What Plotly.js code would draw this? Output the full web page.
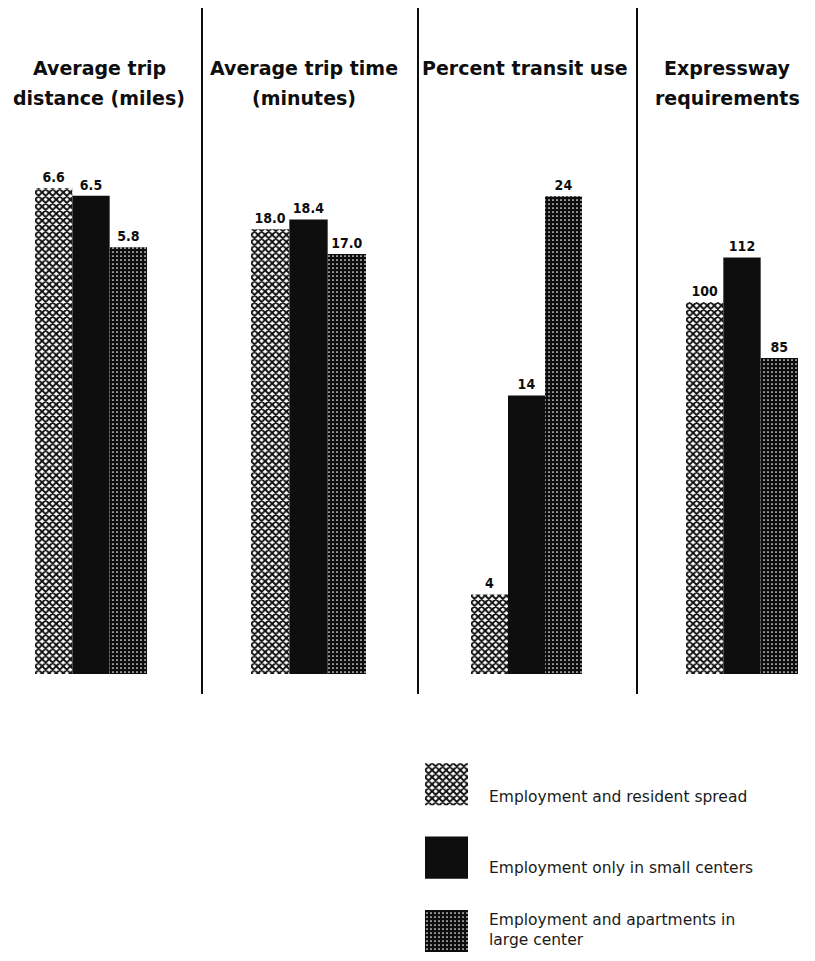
<!DOCTYPE html>
<html>
<head>
<meta charset="utf-8">
<script src="https://cdn.plot.ly/plotly-3.0.1.min.js"></script>
<style>html,body{margin:0;padding:0;background:#fff;}#chart{width:815px;height:961px;}</style>
</head>
<body>
<div id="chart"></div>
<script>
// ---- data ----
const panelTitles = ['Average trip<br>distance (miles)', 'Average trip time<br>(minutes)', 'Percent transit use', 'Expressway<br>requirements'];
const seriesNames = ['Employment and resident spread', 'Employment only in small centers', 'Employment and apartments in<br>large center'];
const tripDistance = [6.6, 6.5, 5.8];
const tripTime = [18.0, 18.4, 17.0];
const transitUse = [4, 14, 24];
const expressway = [100, 112, 85];
const panelValues = [tripDistance, tripTime, transitUse, expressway];
const labelFormats = ['.1f', '.1f', 'd', 'd'];

// ---- styling / layout helpers ----
const W = 815, H = 961;
const px = v => v / W;
const py = v => 1 - v / H;
const INK = '#0e0e0e';
const seriesMarkers = [
  {color: '#ffffff', pattern: {shape: 'x', fgcolor: INK, bgcolor: '#ffffff', size: 5, solidity: 0.62}},
  {color: INK},
  {color: INK, pattern: {shape: '.', fgcolor: '#ffffff', bgcolor: INK, size: 4, solidity: 0.14}}
];
const panelXDomains = [[35, 147], [251, 366], [471, 582], [686, 798]];
const panelYMax = [7.12, 21.21, 26.33, 140.9];
const plotTop = 150, plotBottom = 674;
const titleX = [99, 304, 525, 727];
const titleLineY = [68, 98];
const dividerX = [202, 418, 637];

const traces = [];
const layout = {
  width: W, height: H,
  margin: {l: 0, r: 0, t: 0, b: 0},
  paper_bgcolor: '#fff', plot_bgcolor: '#fff',
  barmode: 'overlay',
  showlegend: false,
  font: {family: 'DejaVu Sans, Liberation Sans, sans-serif', color: INK},
  annotations: [], shapes: []
};

panelValues.forEach((vals, p) => {
  const xa = p === 0 ? 'x' : 'x' + (p + 1);
  const ya = p === 0 ? 'y' : 'y' + (p + 1);
  vals.forEach((v, s) => {
    traces.push({
      type: 'bar', x: [seriesNames[s]], y: [v], xaxis: xa, yaxis: ya,
      width: 1, marker: Object.assign({line: {width: 0}}, seriesMarkers[s]),
      texttemplate: '%{y:' + labelFormats[p] + '}', textposition: 'outside', cliponaxis: false,
      textfont: {family: 'DejaVu Sans Condensed, Liberation Sans Narrow, sans-serif', size: 14, color: INK, weight: 'bold'},
      hoverinfo: 'skip', name: seriesNames[s]
    });
  });
  const axX = p === 0 ? 'xaxis' : 'xaxis' + (p + 1);
  const axY = p === 0 ? 'yaxis' : 'yaxis' + (p + 1);
  layout[axX] = {domain: [px(panelXDomains[p][0]), px(panelXDomains[p][1])], anchor: ya, type: 'category',
    categoryarray: seriesNames, range: [-0.5, 2.5], showticklabels: false, showgrid: false, zeroline: false, showline: false, ticks: '', fixedrange: true};
  layout[axY] = {domain: [py(plotBottom), py(plotTop)], anchor: xa, range: [0, panelYMax[p]],
    showticklabels: false, showgrid: false, zeroline: false, showline: false, ticks: '', fixedrange: true};
  panelTitles[p].split('<br>').forEach((line, i) => {
    layout.annotations.push({text: line, xref: 'paper', yref: 'paper', x: px(titleX[p]), y: py(titleLineY[i]),
      xanchor: 'center', yanchor: 'middle', showarrow: false,
      font: {family: 'DejaVu Sans, sans-serif', size: 19, color: INK, weight: 'bold'}});
  });
});

// legend subplot (swatches drawn as bars)
seriesNames.forEach((name, s) => {
  traces.push({type: 'bar', orientation: 'h', x: [1], y: [name], xaxis: 'x5', yaxis: 'y5', width: 0.573,
    marker: Object.assign({line: {width: 0}}, seriesMarkers[s]), hoverinfo: 'skip', name: name});
});
layout.xaxis5 = {domain: [px(425), px(468)], anchor: 'y5', range: [0, 1], showticklabels: false, showgrid: false, zeroline: false, showline: false, ticks: '', fixedrange: true};
layout.yaxis5 = {domain: [py(953), py(763)], anchor: 'x5', type: 'category', categoryarray: seriesNames, range: [2.3, -0.29],
  showticklabels: false, showgrid: false, zeroline: false, showline: false, ticks: '', fixedrange: true};
const legendLabelY = [797, 868, 930];
seriesNames.forEach((name, s) => {
  layout.annotations.push({text: name, xref: 'paper', yref: 'paper', x: px(487), y: py(legendLabelY[s]),
    xanchor: 'left', yanchor: 'middle', align: 'left', showarrow: false,
    font: {family: 'DejaVu Sans, sans-serif', size: 15.5, color: '#1a1a1a'}});
});

dividerX.forEach(x => {
  layout.shapes.push({type: 'line', xref: 'paper', yref: 'paper', x0: px(x), x1: px(x), y0: py(8), y1: py(694),
    line: {color: INK, width: 2}});
});

Plotly.newPlot('chart', traces, layout, {staticPlot: true, displayModeBar: false});
</script>
</body>
</html>
